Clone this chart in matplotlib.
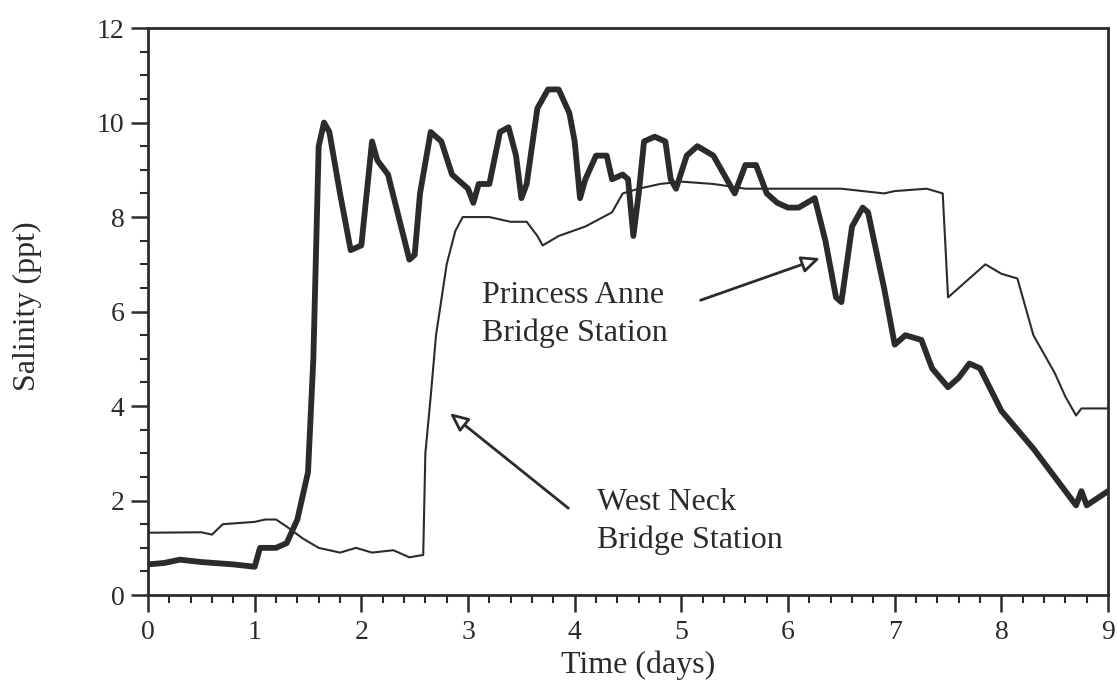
import matplotlib.pyplot as plt
from matplotlib.ticker import MultipleLocator

# Princess Anne Bridge Station (thick line)
pa_days = [0.0, 0.15, 0.3, 0.5, 0.8, 1.0, 1.05, 1.2, 1.3, 1.4, 1.5, 1.55, 1.6, 1.65, 1.7,
           1.8, 1.9, 2.0, 2.05, 2.1, 2.15, 2.25, 2.35, 2.45, 2.5, 2.55, 2.65, 2.75, 2.85,
           3.0, 3.05, 3.1, 3.2, 3.3, 3.38, 3.45, 3.5, 3.55, 3.65, 3.75, 3.85, 3.95, 4.0,
           4.05, 4.1, 4.2, 4.3, 4.35, 4.45, 4.5, 4.55, 4.6, 4.65, 4.75, 4.85, 4.9, 4.95,
           5.05, 5.15, 5.3, 5.45, 5.5, 5.6, 5.7, 5.8, 5.9, 6.0, 6.1, 6.25, 6.35, 6.45,
           6.5, 6.6, 6.7, 6.75, 6.9, 7.0, 7.1, 7.25, 7.35, 7.5, 7.6, 7.7, 7.8, 8.0, 8.3,
           8.5, 8.7, 8.75, 8.8, 9.0]
pa_sal = [0.65, 0.68, 0.75, 0.7, 0.65, 0.6, 1.0, 1.0, 1.1, 1.6, 2.6, 5.0, 9.5, 10.0, 9.8,
          8.5, 7.3, 7.4, 8.5, 9.6, 9.2, 8.9, 8.0, 7.1, 7.2, 8.5, 9.8, 9.6, 8.9,
          8.6, 8.3, 8.7, 8.7, 9.8, 9.9, 9.3, 8.4, 8.7, 10.3, 10.7, 10.7, 10.2, 9.6,
          8.4, 8.8, 9.3, 9.3, 8.8, 8.9, 8.8, 7.6, 8.5, 9.6, 9.7, 9.6, 8.8, 8.6,
          9.3, 9.5, 9.3, 8.7, 8.5, 9.1, 9.1, 8.5, 8.3, 8.2, 8.2, 8.4, 7.5, 6.3,
          6.2, 7.8, 8.2, 8.1, 6.5, 5.3, 5.5, 5.4, 4.8, 4.4, 4.6, 4.9, 4.8, 3.9, 3.1,
          2.5, 1.9, 2.2, 1.9, 2.2]

# West Neck Bridge Station (thin line)
wn_days = [0.0, 0.5, 0.6, 0.7, 1.0, 1.1, 1.2, 1.3, 1.45, 1.6, 1.8, 1.95, 2.1, 2.3, 2.45,
           2.58, 2.6, 2.65, 2.7, 2.8, 2.88, 2.95, 3.0, 3.2, 3.4, 3.55, 3.65, 3.7, 3.85,
           4.1, 4.35, 4.45, 4.6, 4.8, 5.0, 5.3, 5.6, 6.0, 6.5, 6.9, 7.0, 7.3, 7.45, 7.5,
           7.6, 7.85, 8.0, 8.15, 8.3, 8.5, 8.6, 8.7, 8.75, 9.0]
wn_sal = [1.32, 1.33, 1.28, 1.5, 1.55, 1.6, 1.6, 1.45, 1.2, 1.0, 0.9, 1.0, 0.9, 0.95, 0.8,
          0.85, 3.0, 4.2, 5.5, 7.0, 7.7, 8.0, 8.0, 8.0, 7.9, 7.9, 7.6, 7.4, 7.6,
          7.8, 8.1, 8.5, 8.6, 8.7, 8.75, 8.7, 8.6, 8.6, 8.6, 8.5, 8.55, 8.6, 8.5, 6.3,
          6.5, 7.0, 6.8, 6.7, 5.5, 4.7, 4.2, 3.8, 3.95, 3.95]

ink = '#2b2b2b'
plt.rcParams['font.family'] = ['Liberation Serif', 'DejaVu Serif']

fig = plt.figure(figsize=(11.17, 6.92), dpi=100)
ax = fig.add_axes([0.1325, 0.140, 0.8595, 0.8195])

ax.plot(wn_days, wn_sal, color=ink, lw=1.5)
ax.plot(pa_days, pa_sal, color=ink, lw=4.2, solid_joinstyle='round')

ax.set_xlim(0, 9)
ax.set_ylim(0, 12)
ax.xaxis.set_major_locator(MultipleLocator(1))
ax.xaxis.set_minor_locator(MultipleLocator(0.2))
ax.yaxis.set_major_locator(MultipleLocator(2))
ax.yaxis.set_minor_locator(MultipleLocator(0.5))
ax.tick_params(which='major', length=12, width=1.8, labelsize=20, colors=ink)
ax.tick_params(axis='x', which='major', pad=6)
ax.tick_params(axis='y', which='major', pad=5)
ax.tick_params(which='minor', length=6, width=1.5, colors=ink)
for s in ax.spines.values():
    s.set_linewidth(2.0)
    s.set_color(ink)

ax.set_xlabel('Time (days)', fontsize=23, color=ink)
ax.set_ylabel('Salinity (ppt)', fontsize=23, color=ink)
ax.xaxis.label.set_va('center')
ax.yaxis.label.set_va('center')
ax.xaxis.set_label_coords(0.51, -0.123)
ax.yaxis.set_label_coords(-0.126, 0.51)

arrow = dict(arrowstyle='-|>,head_length=1.1,head_width=0.5',
             fc='white', ec=ink, lw=2.0, shrinkA=0, shrinkB=0)

ax.text(3.13, 6.35, 'Princess Anne', fontsize=23, color=ink, va='center')
ax.text(3.13, 5.55, 'Bridge Station', fontsize=23, color=ink, va='center')
ax.annotate('', xy=(6.30, 7.13), xytext=(5.18, 6.24), arrowprops=arrow)

ax.text(4.21, 1.97, 'West Neck', fontsize=23, color=ink, va='center')
ax.text(4.21, 1.17, 'Bridge Station', fontsize=23, color=ink, va='center')
ax.annotate('', xy=(2.83, 3.85), xytext=(3.94, 1.84), arrowprops=arrow)

fig.savefig('out.png', dpi=100)
